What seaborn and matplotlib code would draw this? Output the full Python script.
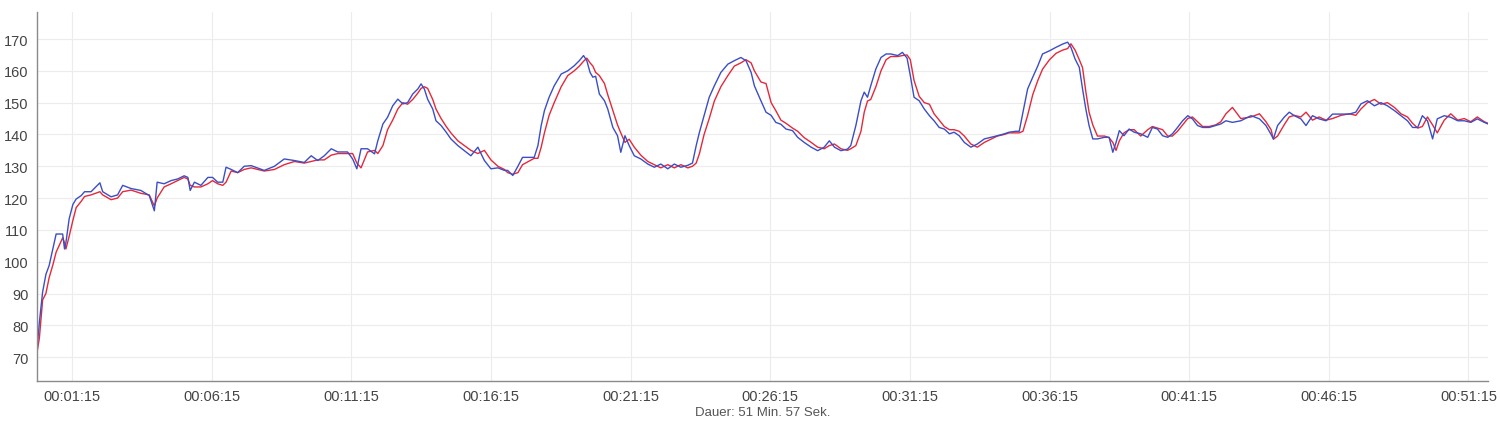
import matplotlib
matplotlib.use("Agg")
import matplotlib.pyplot as plt
import seaborn as sns
import pandas as pd

# elapsed time in seconds
seconds = [
    0, 5, 12, 19, 26, 34, 41, 55, 59, 62,
    69, 77, 84, 95, 102, 116, 135, 141, 159, 173,
    184, 202, 223, 241, 252, 258, 273, 288, 302, 316,
    324, 329, 338, 352, 367, 377, 388, 399, 406, 417,
    431, 445, 460, 488, 510, 531, 553, 574, 589, 603,
    617, 632, 646, 667, 678, 687, 696, 710, 725, 732,
    743, 753, 764, 775, 786, 796, 807, 818, 825, 832,
    839, 850, 857, 868, 879, 889, 904, 918, 932, 947,
    961, 975, 990, 1004, 1011, 1022, 1033, 1043, 1068, 1076,
    1083, 1090, 1100, 1111, 1126, 1140, 1154, 1165, 1174, 1181,
    1188, 1194, 1200, 1208, 1219, 1226, 1237, 1247, 1254, 1263,
    1272, 1283, 1297, 1312, 1326, 1340, 1355, 1369, 1383, 1398,
    1408, 1416, 1423, 1433, 1444, 1455, 1469, 1484, 1498, 1512,
    1523, 1534, 1541, 1555, 1566, 1577, 1587, 1598, 1609, 1623,
    1634, 1648, 1663, 1677, 1691, 1702, 1713, 1727, 1741, 1748,
    1759, 1770, 1777, 1784, 1791, 1802, 1813, 1824, 1834, 1849,
    1859, 1869, 1876, 1884, 1895, 1906, 1917, 1927, 1938, 1949,
    1960, 1970, 1981, 1992, 2006, 2020, 2035, 2049, 2063, 2078,
    2088, 2103, 2110, 2118, 2128, 2139, 2150, 2160, 2175, 2189,
    2203, 2214, 2221, 2230, 2239, 2246, 2253, 2260, 2268, 2278,
    2293, 2303, 2311, 2318, 2325, 2335, 2346, 2357, 2371, 2386,
    2396, 2407, 2418, 2429, 2439, 2450, 2461, 2472, 2482, 2493,
    2504, 2518, 2532, 2543, 2554, 2568, 2586, 2608, 2626, 2640,
    2651, 2656, 2665, 2679, 2690, 2701, 2715, 2726, 2740, 2754,
    2769, 2783, 2801, 2819, 2833, 2844, 2858, 2873, 2887, 2901,
    2916, 2930, 2944, 2955, 2966, 2976, 2987, 2998, 3008, 3023,
    3037, 3052, 3066, 3080, 3094, 3109, 3117,
]

blue_values = [
    72.6, 81, 90.5, 96, 98.8, 104, 108.7, 108.7, 104, 106,
    113.5, 118, 119.7, 120.8, 122, 122, 124.8, 122, 120.4, 121,
    124, 123, 122.4, 120.8, 116, 125, 124.5, 125.5, 126, 127,
    126.5, 122.4, 125, 124, 126.5, 126.5, 125, 125, 129.7, 129,
    128, 130, 130.2, 128.7, 130, 132.3, 131.8, 131.2, 133.3, 131.8,
    133.3, 135.5, 134.5, 134.5, 132.3, 129.2, 135.5, 135.5, 133.9, 138,
    143.3, 145.4, 149, 151.1, 149.6, 150, 152.7, 154.3, 155.9, 154.3,
    151.1, 148, 144.3, 142.8, 140.7, 138.6, 136.5, 134.9, 133.3, 136,
    131.8, 129.2, 129.5, 128.7, 128.7, 127.1, 130, 132.8, 132.8, 136.5,
    142.8, 147.5, 151.7, 155.3, 159, 160, 161.6, 163.2, 164.8, 163.2,
    159.5, 158, 158.3, 152.7, 150.6, 148, 142.2, 139.6, 134.4, 139.6,
    136.5, 133.3, 132.3, 130.7, 129.7, 130.7, 129.2, 130.7, 129.7, 130.3,
    131, 136.5, 140.7, 145.9, 151.7, 155.3, 159.5, 162.1, 163.2, 164.2,
    163.2, 159.5, 155.3, 150.6, 147, 146, 143.8, 143.2, 141.7, 141.2,
    139.1, 137.5, 136, 134.9, 136, 138, 136, 134.9, 135.4, 136.5,
    142.8, 150.6, 153.3, 151.7, 155.3, 160.6, 164.2, 165.3, 165.3, 164.8,
    165.8, 164, 158.5, 151.7, 150.6, 148, 145.9, 144.3, 142.2, 141.7,
    140.2, 140.7, 139.6, 137.5, 136, 137, 138.6, 139.1, 139.6, 140.2,
    140.7, 141, 141, 147, 154.3, 158, 161.6, 165.3, 166.3, 167.4,
    168.4, 169, 167.4, 163.7, 161.1, 154.3, 148, 142.8, 138.6, 138.6,
    139.1, 139.1, 134.4, 137.5, 141.2, 139.6, 141.7, 140.7, 140.2, 139.1,
    142.2, 141.7, 139.6, 139.1, 140.2, 142.2, 144.3, 145.9, 144.9, 142.8,
    142.2, 142.2, 142.8, 143.3, 144.3, 143.8, 144.3, 145.9, 144.9, 142.8,
    140, 138.6, 142.8, 145.4, 147, 145.9, 144.9, 142.8, 145.9, 144.9,
    144.3, 146.4, 146.4, 146.4, 147, 149.6, 150.6, 149, 150, 149,
    147.5, 145.9, 144.3, 142.2, 142.2, 145.9, 144.3, 138.6, 144.9, 145.9,
    145.4, 144.3, 144.3, 143.8, 144.9, 143.8, 143.3,
]

red_values = [
    71.5, 76, 88, 90, 95, 99, 103, 107.5, 106, 104,
    108, 113, 117, 119, 120.5, 121, 122, 121, 119.5, 120,
    122, 122.5, 121.5, 121, 117.5, 120, 123.5, 124.5, 125.5, 126.5,
    126, 124, 123.5, 123.5, 124.5, 125.5, 124.5, 124, 125, 128.5,
    128, 129, 129.5, 128.5, 129, 130.5, 131.5, 131, 131.5, 132,
    132, 133.5, 134, 134, 134, 131, 129.5, 134.5, 135, 134,
    136.5, 141.5, 144.5, 148, 150, 149.5, 151, 153, 154.5, 155,
    154.5, 151, 148, 145, 142.5, 140.5, 138, 136.5, 135, 134,
    135, 132, 130, 129, 128, 127.5, 128, 130.5, 132.5, 132.5,
    136, 140.5, 146, 150, 155, 158.5, 160, 161.5, 163, 164,
    162.5, 161.5, 159.5, 158.5, 156, 152.5, 147.5, 143, 140.5, 137.5,
    138.5, 136, 133.5, 131.5, 130.5, 129.5, 130.5, 129.5, 130.5, 129.5,
    130, 131, 134, 140, 145, 150.5, 155, 158.5, 161.5, 162.5,
    163.5, 162.5, 160, 156.5, 156, 150, 147.5, 144.5, 143.5, 142,
    141, 139, 137.5, 136, 135.5, 136.5, 137, 135.5, 135, 135.5,
    136.5, 141, 147, 150.5, 151, 155, 160, 163.5, 164.5, 164.5,
    164.8, 165, 163.5, 157, 152, 150, 149.5, 146.5, 144.5, 142.5,
    141.5, 141.5, 141, 139.5, 137, 136, 137.5, 138.5, 139.5, 140,
    140.5, 140.5, 140.5, 141, 146, 152.5, 157, 160.5, 163.5, 165.5,
    166.5, 167, 168.5, 166.5, 163.5, 161, 153.5, 147, 143, 139.5,
    139.5, 139, 137.5, 135, 138, 140.5, 141.5, 141.5, 139.5, 141.5,
    142.5, 142, 141.5, 139.5, 139.5, 141, 143, 145, 145.5, 144,
    142.5, 142.5, 143, 144, 146.5, 148.5, 145, 145.5, 146.5, 144,
    141.5, 138.5, 139.5, 143, 145.5, 146, 145.5, 147, 144.5, 145.5,
    144.5, 145, 146, 146.5, 146, 148, 150, 151, 149.5, 150,
    148.5, 146.5, 145.5, 143.5, 142, 142.5, 145.5, 143, 140.5, 144.5,
    146.5, 144.5, 145, 144, 145.5, 144, 143.5,
]

x_tick_seconds = [75, 375, 675, 975, 1275, 1575, 1875, 2175, 2475, 2775, 3075]
x_tick_labels = ["00:01:15", "00:06:15", "00:11:15", "00:16:15", "00:21:15",
                 "00:26:15", "00:31:15", "00:36:15", "00:41:15", "00:46:15",
                 "00:51:15"]
y_ticks = [70, 80, 90, 100, 110, 120, 130, 140, 150, 160, 170]
x_label = "Dauer: 51 Min. 57 Sek."

df = pd.concat([
    pd.DataFrame({"t": seconds, "v": red_values, "s": "red"}),
    pd.DataFrame({"t": seconds, "v": blue_values, "s": "blue"}),
])

sns.set_style("white")
plt.rcParams["font.family"] = ["Liberation Sans", "DejaVu Sans"]

fig = plt.figure(figsize=(15, 4.27), dpi=100)
ax = fig.add_axes([0.0247, 0.1054, 0.9673, 0.8642])

sns.lineplot(data=df, x="t", y="v", hue="s", palette={"red": "#e3293b", "blue": "#3b4ec4"},
             estimator=None, sort=False, linewidth=1.0, legend=False, ax=ax)

ax.set_xlim(0, 3117)
ax.set_ylim(62.5, 178.5)
ax.set_xticks(x_tick_seconds)
ax.set_xticklabels(x_tick_labels)
ax.set_yticks(y_ticks)
ax.grid(True, color="#ececec", linewidth=0.8)
ax.set_axisbelow(True)
for s in ["top", "right"]:
    ax.spines[s].set_visible(False)
for s in ["left", "bottom"]:
    ax.spines[s].set_color("#8a8a8a")
    ax.spines[s].set_linewidth(1.0)
ax.tick_params(axis="both", length=0, labelsize=10.5, colors="#444444", pad=6)
ax.set_xlabel(x_label, fontsize=9.5, color="#555555", labelpad=2)
ax.set_ylabel("")

fig.savefig("out.png", dpi=100, facecolor="white")
